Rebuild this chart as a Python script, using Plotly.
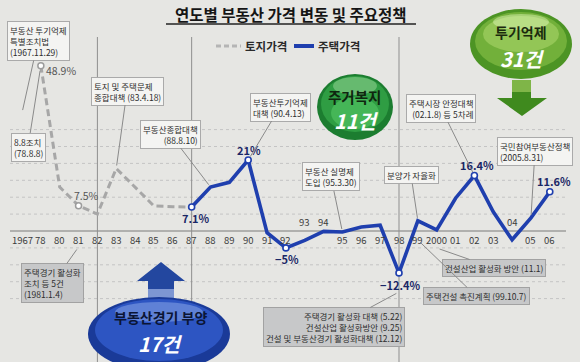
import plotly.graph_objects as go

W, H = 580, 362

# ---------------- data ----------------
years = ["1967", "78", "80", "81", "82", "83", "84", "85", "86", "87", "88", "89", "90",
         "91", "92", "93", "94", "95", "96", "97", "98", "99", "2000", "01", "02", "03",
         "04", "05", "06"]
land_years = ["78", "80", "81", "82", "83", "84", "85", "86", "87"]
land_change = [48.9, 13.0, 7.5, 5.0, 18.5, 13.0, 7.4, 7.2, 7.1]
house_years = ["87", "88", "89", "90", "91", "92", "93", "94", "95", "96", "97", "98",
               "99", "2000", "01", "02", "03", "04", "05", "06"]
house_change = [7.1, 13.0, 14.4, 21.0, -0.5, -5.0, -2.8, -0.1, -0.3, 1.2, 1.7, -12.4,
                3.0, 0.3, 9.7, 16.4, 5.7, -2.6, 3.9, 11.6]
house_labeled = ["87", "90", "92", "98", "02", "06"]
land_labeled = ["78", "81"]
ticks_above = ["93", "94", "04"]
era_dividers = ["82", "87", "98"]
grid_vals = [-20, -15, -10, -5, 5, 10, 15, 20, 25, 30]

# ---------------- layout helpers ----------------
X0, DX = 22.0, 18.85     # pixel of first category, pixel step
Y0, K = 231.0, 3.38      # pixel of zero line, pixels per percent
KR = "Noto Sans CJK KR"
NARROW = "Liberation Sans Narrow, Noto Sans CJK KR"
BLUE = "#1f3fae"
GRAY = "#a7a7a7"


def xi(c):
    return years.index(c)


def px(c):
    return X0 + xi(c) * DX


def py(v):
    return Y0 - v * K


def vy(p):
    return (Y0 - p) / K


def fx(p):
    return p / W


def fy(p):
    return 1 - p / H


def pct(v):
    return f"{v:g}%".replace("-", "\u2212")


fig = go.Figure()

# ---------------- traces ----------------
fig.add_trace(go.Scatter(x=[xi(c) for c in land_years], y=land_change, mode="lines",
                         name="토지가격", line=dict(color=GRAY, width=3, dash="7px,4px"),
                         showlegend=False))
fig.add_trace(go.Scatter(x=[xi(c) for c in house_years], y=house_change, mode="lines",
                         name="주택가격", line=dict(color=BLUE, width=3.6),
                         showlegend=False))
lv = dict(zip(land_years, land_change))
hv = dict(zip(house_years, house_change))
fig.add_trace(go.Scatter(x=[xi(c) for c in land_labeled], y=[lv[c] for c in land_labeled],
                         mode="markers", showlegend=False, hoverinfo="skip",
                         marker=dict(size=6, color="white", line=dict(color="#9c9c9c", width=1.5))))
fig.add_trace(go.Scatter(x=[xi(c) for c in house_labeled], y=[hv[c] for c in house_labeled],
                         mode="markers", showlegend=False, hoverinfo="skip",
                         marker=dict(size=6, color="white", line=dict(color=BLUE, width=1.6))))

shapes = []
ann = []


def label(xp, yp, text, size, color, family=None, xanchor="center"):
    ann.append(dict(xref="paper", yref="paper", x=fx(xp), y=fy(yp), text=text, showarrow=False,
                    xanchor=xanchor, yanchor="middle",
                    font=dict(family=family or KR, size=size, color=color)))


# grid + zero line + dividers
for g in grid_vals:
    shapes.append(dict(type="line", xref="paper", yref="y", x0=fx(10), x1=fx(566), y0=g, y1=g,
                       line=dict(color="#c4c4c4", width=1, dash="dot"), layer="below"))
shapes.append(dict(type="line", xref="paper", yref="y", x0=fx(10), x1=fx(566), y0=0, y1=0,
                   line=dict(color="#7a7a7a", width=1.2), layer="below"))
for c in era_dividers:
    shapes.append(dict(type="line", xref="x", yref="paper", x0=xi(c), x1=xi(c), y0=0, y1=fy(37),
                       line=dict(color="#8f8f8f", width=1), layer="below"))

# title + underline
label(291, 14, "<b>연도별 부동산 가격 변동 및 주요정책</b>", 15.5, "#151515")
shapes.append(dict(type="line", xref="paper", yref="paper", x0=fx(166), x1=fx(416), y0=fy(24), y1=fy(24),
                   line=dict(color="#222", width=1.3)))

# legend (manual)
shapes.append(dict(type="line", xref="paper", yref="paper", x0=fx(216), x1=fx(241), y0=fy(46), y1=fy(46),
                   line=dict(color="#b5b5b5", width=3, dash="5px,3px")))
label(243, 46, "<b>토지가격</b>", 11.5, "#2a2a2a", xanchor="left")
shapes.append(dict(type="line", xref="paper", yref="paper", x0=fx(294), x1=fx(314), y0=fy(46), y1=fy(46),
                   line=dict(color=BLUE, width=4)))
label(316, 46, "<b>주택가격</b>", 11.5, "#2a2a2a", xanchor="left")

# tick labels on the zero line
for c in years:
    ann.append(dict(x=xi(c), y=0, text=c, showarrow=False, yshift=(9 if c in ticks_above else -9),
                    xanchor="center", yanchor="middle",
                    font=dict(family=NARROW, size=9.5, color="#3c3c3c")))

# value labels
house_off = {"87": (4, -11), "90": (1, 10), "92": (1, -11), "98": (1, -12), "02": (3, 11), "06": (4, 11)}
for c in house_labeled:
    dxp, dyp = house_off[c]
    ann.append(dict(x=xi(c), y=hv[c], text=f"<b>{pct(hv[c])}</b>", showarrow=False, xshift=dxp, yshift=dyp,
                    xanchor="center", yanchor="middle",
                    font=dict(family=NARROW, size=11, color="#1a2766")))
land_off = {"78": (20, -5), "81": (8, 10)}
for c in land_labeled:
    dxp, dyp = land_off[c]
    ann.append(dict(x=xi(c), y=lv[c], text=pct(lv[c]), showarrow=False, xshift=dxp, yshift=dyp,
                    xanchor="center", yanchor="middle",
                    font=dict(family=NARROW, size=10.5, color="#555")))


def callout(text, cat, val, cx, cy, gray=False, align="left", standoff=3):
    tx, ty = px(cat), py(val)
    ann.append(dict(x=xi(cat), y=val, ax=cx - tx, ay=cy - ty, text=text, showarrow=True,
                    arrowhead=0, arrowwidth=1, arrowcolor="#8a8a8a", standoff=standoff, align=align,
                    bgcolor=("#c7c8c9" if gray else "#f4f4f2"),
                    bordercolor=("#a2a2a2" if gray else "#aaaaaa"), borderwidth=1, borderpad=2,
                    font=dict(family=KR, size=8.5, color="#2e2e2e")))


callout("부동산 투기억제<br>특별조치법<br>(1967.11.29)", "1967", vy(113), 38, 41)
callout("8.8조치<br>(78.8.8)", "78", lv["78"], 28, 147, standoff=5)
callout("토지 및 주택문제<br>종합대책 (83.4.18)", "83", lv["83"], 127, 91)
callout("부동산종합대책<br>(88.8.10)", "88", hv["88"], 170, 134, align="right")
callout("부동산투기억제<br>대책 (90.4.13)", "90", hv["90"], 280, 107, standoff=4)
callout("부동산 실명제<br>도입 (95.3.30)", "95", hv["95"], 331, 177)
callout("분양가 자율화", "99", hv["99"], 411, 175)
callout("주택시장 안정대책<br>(02.1.8) 등 5차례", "02", hv["02"], 441, 108, align="right", standoff=4)
callout("국민참여부동산정책<br>(2005.8.31)", "05", hv["05"], 535, 151)
callout("주택경기 활성화<br>조치 등 5건<br>(1981.1.4)", "81", vy(247), 53, 283, gray=True)
callout("주택경기 활성화 대책 (5.22)<br>건설산업 활성화방안 (9.25)<br>건설 및 부동산경기 활성화대책 (12.12)",
        "98", vy(292), 334, 327, gray=True, align="right")
callout("건설산업 활성화 방안 (11.1)", "2000", vy(248), 494, 268, gray=True)
callout("주택건설 촉진계획 (99.10.7)", "99", vy(240), 476, 296, gray=True)


# ---------------- badges (ellipses + arrows) ----------------
def ellipse(cx, cy, rx, ry, color):
    shapes.append(dict(type="circle", xref="paper", yref="paper", x0=fx(cx - rx), x1=fx(cx + rx),
                       y0=fy(cy + ry), y1=fy(cy - ry), fillcolor=color, line=dict(width=0)))


def poly(pts, color):
    d = "M " + " L ".join(f"{fx(a):.5f},{fy(b):.5f}" for a, b in pts) + " Z"
    shapes.append(dict(type="path", xref="paper", yref="paper", path=d, fillcolor=color,
                       line=dict(width=0)))


# 주거복지 11건
ellipse(355, 107, 38, 33, "#1c7d30")
ellipse(355, 104, 34, 28, "#2f9d43")
ellipse(355, 113, 24, 16, "#45b657")
ellipse(355, 86, 22, 9, "rgba(205,240,195,0.35)")
label(355, 96, "<b>주거복지</b>", 14.5, "#0f260f")
label(356, 121, "<b><i>11건</i></b>", 20, "white")

# 투기억제 31건 + down arrow
poly([(512, 80), (531, 80), (531, 98), (547, 98), (522, 116), (497, 98), (512, 98)], "#3f8a1e")
poly([(512, 80), (531, 80), (531, 92), (512, 92)], "#7fb548")
ellipse(521, 44, 51, 35, "#4c9424")
ellipse(521, 41, 46, 29, "#72b03a")
ellipse(521, 34, 38, 18, "#93c656")
ellipse(521, 22, 28, 8, "rgba(230,250,190,0.45)")
label(521, 32, "<b>투기억제</b>", 14, "#1b2a0e")
label(522, 58, "<b><i>31건</i></b>", 20, "white")

# 부동산경기 부양 17건 + up arrow
poly([(161, 262), (185, 281), (174, 281), (174, 300), (148, 300), (148, 281), (137, 281)], "#23479f")
poly([(148, 289), (174, 289), (174, 300), (148, 300)], "#7d96d2")
ellipse(159, 334, 71, 37, "#1a3a98")
ellipse(159, 330, 64, 31, "#2d55c2")
ellipse(159, 312, 44, 10, "rgba(170,195,245,0.40)")
label(160, 317, "<b>부동산경기 부양</b>", 14, "#0b1535")
label(160, 343, "<b><i>17건</i></b>", 20, "white")

fig.update_layout(
    width=W, height=H, margin=dict(l=0, r=0, t=0, b=0, pad=0, autoexpand=False),
    paper_bgcolor="#e6e6e3", plot_bgcolor="#e6e6e3",
    xaxis=dict(range=[-X0 / DX, (W - X0) / DX], visible=False, fixedrange=True),
    yaxis=dict(range=[-(H - Y0) / K, Y0 / K], visible=False, fixedrange=True),
    shapes=shapes, annotations=ann, showlegend=False,
)

fig.write_html("out.html", config={"displayModeBar": False},
               post_script="document.body.style.margin='0';document.body.style.overflow='hidden';")
